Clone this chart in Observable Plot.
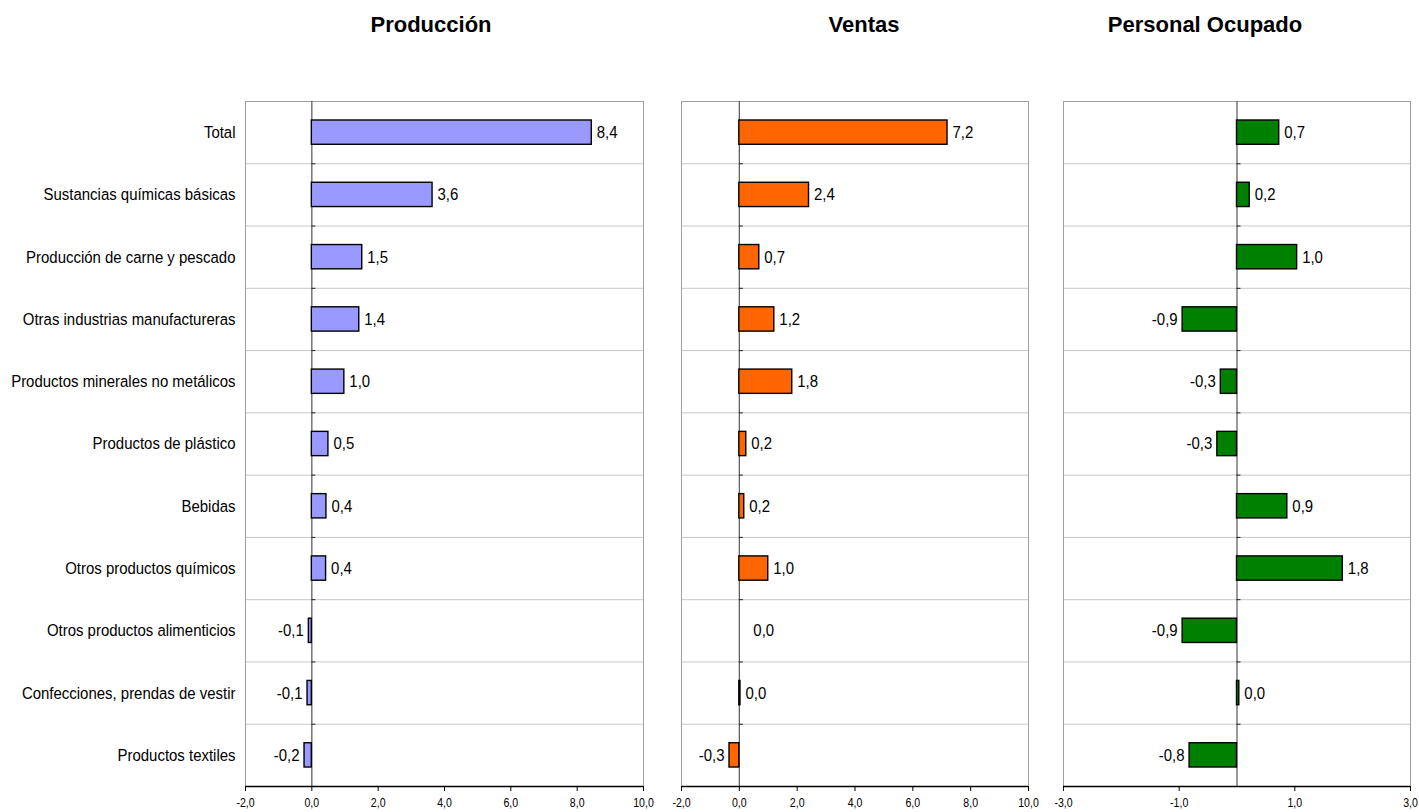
<!DOCTYPE html>
<html><head><meta charset="utf-8">
<script src="https://cdn.jsdelivr.net/npm/d3@7"></script>
<script src="https://cdn.jsdelivr.net/npm/@observablehq/plot@0.6"></script>
<style>
body{margin:0;background:#fff;}
#wrap{position:relative;width:1419px;height:812px;overflow:hidden;font-family:"Liberation Sans",Arial,sans-serif;}
.title{position:absolute;top:12px;font-weight:bold;font-size:22px;line-height:26px;transform:translateX(-50%);white-space:nowrap;color:#000;}
.panel{position:absolute;top:0;}
</style></head><body><div id="wrap"></div>
<script>
const categories = ["Total","Sustancias químicas básicas","Producción de carne y pescado","Otras industrias manufactureras","Productos minerales no metálicos","Productos de plástico","Bebidas","Otros productos químicos","Otros productos alimenticios","Confecciones, prendas de vestir","Productos textiles"];
const produccion = [8.44, 3.64, 1.52, 1.43, 0.98, 0.5, 0.44, 0.43, -0.09, -0.13, -0.22];
const ventas = [7.2, 2.41, 0.69, 1.21, 1.83, 0.24, 0.17, 1.0, 0, 0.04, -0.34];
const personal = [0.73, 0.22, 1.04, -0.94, -0.28, -0.34, 0.87, 1.83, -0.94, 0.04, -0.82];
const panelTitles = ["Producción", "Ventas", "Personal Ocupado"];
const ticksA = [-2, 0, 2, 4, 6, 8, 10];
const ticksB = [-3, -1, 1, 3];

const font = '"Liberation Sans",Arial,sans-serif';
const squeeze = 0.88;
const fmt = v => v.toFixed(1).replace(".", ",");

function panel(cfg) {
  const data = categories.map((c, i) => ({c, i, v: cfg.values[i]}));
  const span = cfg.domain[1] - cfg.domain[0];
  const plotW = cfg.width - cfg.marginLeft - cfg.marginRight;
  const tickLen = span * 4 / plotW;
  const bounds = d3.range(0.5, categories.length - 1, 1);
  const svg = Plot.plot({
    width: cfg.width, height: 812,
    marginTop: 101, marginBottom: 26, marginLeft: cfg.marginLeft, marginRight: cfg.marginRight,
    style: {fontFamily: font, fontSize: "17px", color: "#000", background: "transparent", overflow: "visible"},
    x: {domain: cfg.domain},
    y: {domain: [categories.length - 0.5, -0.5], axis: null},
    marks: [
      Plot.ruleY(bounds, {stroke: "#c8c8c8", strokeWidth: 1}),
      Plot.frame({stroke: "#a0a0a0"}),
      Plot.ruleX([0], {stroke: "#555", strokeWidth: 1.2}),
      Plot.ruleY(bounds, {x1: 0, x2: tickLen, stroke: "#222"}),
      Plot.rect(data.filter(d => d.v !== 0), {x1: 0, x2: "v", y1: d => d.i - 0.195, y2: d => d.i + 0.195, fill: cfg.color, stroke: "#000", strokeWidth: 1.4}),
      Plot.text(data.filter(d => d.v > 0), {x: "v", y: "i", text: d => fmt(d.v), textAnchor: "start", dx: 5, fill: "#000"}),
      Plot.text(data.filter(d => d.v < 0), {x: "v", y: "i", text: d => fmt(d.v), textAnchor: "end", dx: -5, fill: "#000"}),
      Plot.text(data.filter(d => d.v === 0), {x: 0, y: "i", text: d => fmt(d.v), textAnchor: "start", dx: 14, fill: "#000"}),
      cfg.showLabels ? Plot.text(data, {x: cfg.domain[0], y: "i", text: "c", textAnchor: "end", dx: -10, fill: "#000"}) : null,
      Plot.ruleY([categories.length - 0.5], {stroke: "#000", strokeWidth: 1.5}),
      Plot.axisX({ticks: cfg.ticks, tickFormat: fmt, tickSize: 5, tickPadding: 7, fontSize: 12, label: null, stroke: "#000"})
    ]
  });
  // condense text horizontally (narrow face look)
  svg.querySelectorAll("text").forEach(t => {
    const tr = t.getAttribute("transform");
    if (tr) {
      t.setAttribute("transform", tr + ` scale(${squeeze},1)`);
    } else {
      const x = +(t.getAttribute("x") || 0), y = +(t.getAttribute("y") || 0);
      t.setAttribute("transform", `translate(${x},${y}) scale(${squeeze},1) translate(${-x},${-y})`);
    }
  });
  return svg;
}

const panels = [
  {values: produccion, color: "#9999ff", domain: [-2, 10], ticks: ticksA, left: 0, width: 655, marginLeft: 245, marginRight: 12, showLabels: true, titleX: 431},
  {values: ventas, color: "#ff6600", domain: [-2, 10], ticks: ticksA, left: 660, width: 382, marginLeft: 21, marginRight: 14, showLabels: false, titleX: 864},
  {values: personal, color: "#008000", domain: [-3, 3], ticks: ticksB, left: 1045, width: 374, marginLeft: 18, marginRight: 9, showLabels: false, titleX: 1205}
];

const wrap = document.getElementById("wrap");
panels.forEach((cfg, k) => {
  const svg = panel(cfg);
  const holder = document.createElement("div");
  holder.className = "panel";
  holder.style.left = cfg.left + "px";
  holder.appendChild(svg);
  wrap.appendChild(holder);
  const t = document.createElement("div");
  t.className = "title";
  t.style.left = cfg.titleX + "px";
  t.textContent = panelTitles[k];
  wrap.appendChild(t);
});
</script>
</body></html>
